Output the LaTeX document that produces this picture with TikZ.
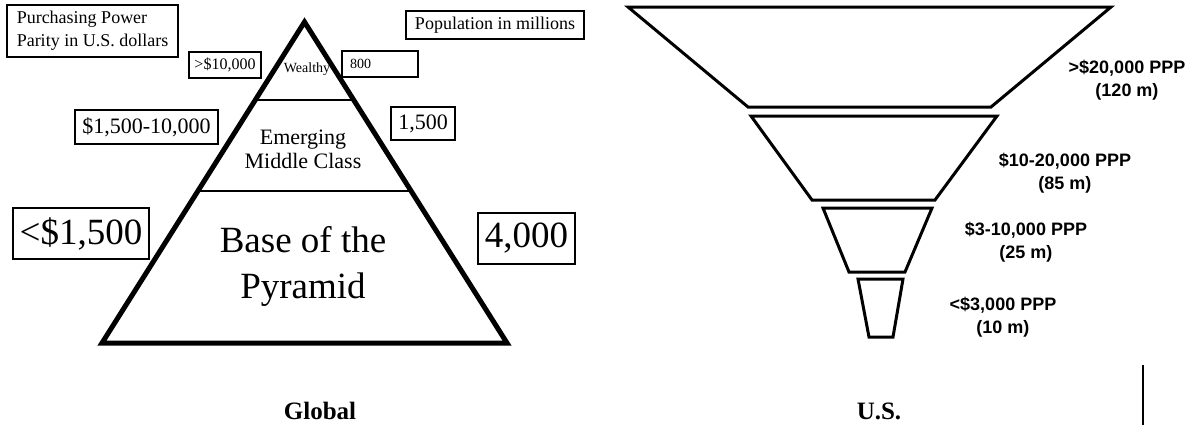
\documentclass[tikz,border=0pt]{standalone}
\usepackage{fontspec}
\setmainfont{Liberation Serif}
\setsansfont{Liberation Sans}
\usetikzlibrary{calc}
\newcommand{\fsz}[2]{\fontsize{#1}{#2}\selectfont}

\begin{document}
\begin{tikzpicture}[x=0.5pt, y=-0.5pt,
  box/.style={draw, line width=0.6pt, inner sep=0pt, align=center},
  lab/.style={align=center, inner sep=0pt},
  tier/.style={draw, line width=1.5pt},
  ppp/.style={font=\sffamily\bfseries\fsz{9}{11.5}, align=center, inner sep=0pt},
  caption/.style={font=\bfseries\fsz{12.5}{14}, inner sep=0pt}
]
\useasboundingbox (0,0) rectangle (1196,425);

% global pyramid
\coordinate (apex) at (304.5,22);
\coordinate (bl) at (102,343);
\coordinate (br) at (507,343);
\draw[line width=2.5pt] (apex) -- (br) -- (bl) -- cycle;
\draw[line width=0.75pt] ($(apex)!0.243!(bl)$) -- ($(apex)!0.243!(br)$);
\draw[line width=0.75pt] ($(apex)!0.5265!(bl)$) -- ($(apex)!0.5265!(br)$);

\node[lab, font=\fsz{7}{8}] (wealthy) at (307,69) {Wealthy};
\node[lab, font=\fsz{11}{12}] (middle) at (303,149) {Emerging\\Middle Class};
\node[lab, font=\fsz{18.5}{23}] (base) at (303,266) {Base of the\\Pyramid};

% income and population boxes
\node[box, align=left, font=\fsz{9}{11.5}, minimum width=85.5pt, minimum height=26pt] (pppnote) at (92.5,31) {Purchasing Power\\Parity in U.S. dollars};
\node[box, font=\fsz{9}{11}, minimum width=89pt, minimum height=14pt] (popnote) at (495,25) {Population in millions};
\node[box, font=\fsz{8}{9}, minimum width=36pt, minimum height=13pt] (topinc) at (225,65) {>\$10,000};
\node[box, font=\fsz{7}{8}, align=left, inner xsep=4pt, text width=30pt, minimum height=13pt] (toppop) at (380,64) {800};
\node[box, font=\fsz{11}{12}, minimum width=71.5pt, minimum height=17pt] (midinc) at (146.5,127) {\$1,500-10,000};
\node[box, font=\fsz{11}{12}, minimum width=32pt, minimum height=16.5pt] (midpop) at (423,123.5) {1,500};
\node[box, font=\fsz{18.5}{20}, minimum width=68pt, minimum height=25.5pt] (lowinc) at (81,233.5) {<\$1,500};
\node[box, font=\fsz{18.5}{20}, minimum width=48.5pt, minimum height=25.5pt] (lowpop) at (526.5,238.5) {4,000};

% u.s. funnel
\foreach \yt/\xtl/\xtr/\yb/\xbl/\xbr in {7/628/1111/107/748/991, 116/751/997/200/812/935, 208/823/932/272/849/905, 279/858/903/337/869/893}
  \draw[tier] (\xtl,\yt) -- (\xtr,\yt) -- (\xbr,\yb) -- (\xbl,\yb) -- cycle;

\foreach \n/\x/\y/\t in {rich/1127/80/{>\$20,000 PPP\\(120 m)}, upper/1065/173/{\$10-20,000 PPP\\(85 m)}, lower/1026/242/{\$3-10,000 PPP\\(25 m)}, poor/1003/317/{<\$3,000 PPP\\(10 m)}}
  \node[ppp] (\n) at (\x,\y) {\t};

\node[caption] (global) at (320,411) {Global};
\node[caption] (us) at (879,411) {U.S.};

\coordinate (ruletop) at (1143,365);
\coordinate (rulebot) at (1143,425);
\draw[line width=1pt] (ruletop) -- (rulebot);
\end{tikzpicture}
\end{document}
